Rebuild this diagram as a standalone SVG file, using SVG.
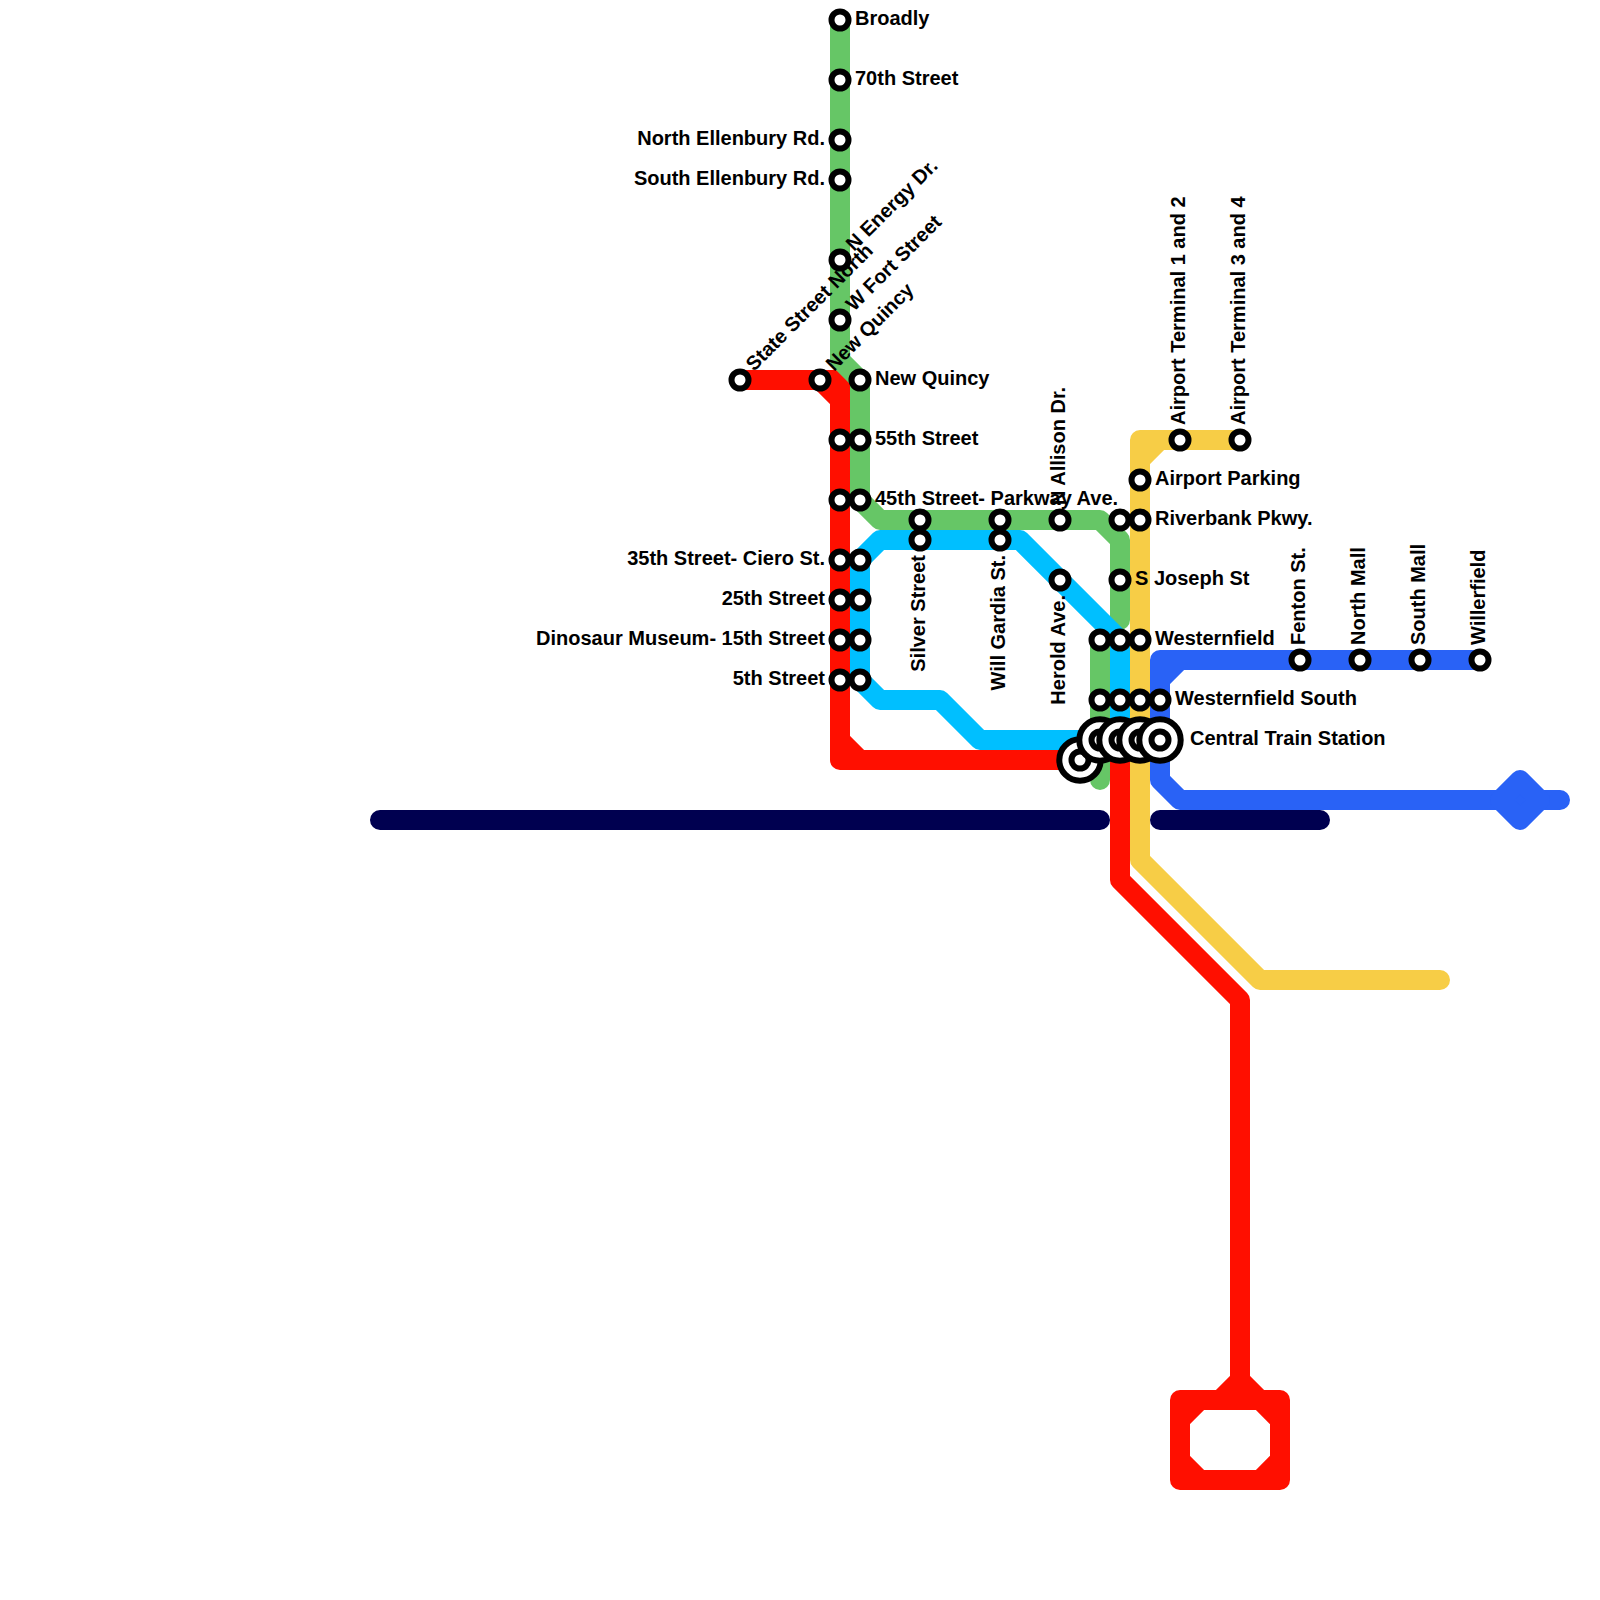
<svg xmlns="http://www.w3.org/2000/svg" width="1600" height="1600" viewBox="0 0 1600 1600">
<style>
.l{fill:none;stroke-width:20;stroke-linecap:round;stroke-linejoin:round}
.s{fill:#fff;stroke:#000;stroke-width:6}
.o{fill:#fff;stroke:#000;stroke-width:6}
text{font-family:"Liberation Sans",Arial,sans-serif;font-weight:700;font-size:20px;fill:#000}
.e{text-anchor:end}
</style>
<rect width="1600" height="1600" fill="#fff"/>
<g id="connectors">
<path class="l" stroke="#000050" d="M380 820H1100M1160 820H1320"/>
<path class="l" stroke="#ff0f00" d="M740 380H840V760H1080M820 380L840 400M840 740L860 760M1120 740V880L1240 1000V1400M1240 1380L1220 1400M1240 1380L1260 1400M1180 1400H1280V1480H1180ZM1180 1420L1200 1400M1260 1400L1280 1420M1280 1460L1260 1480M1200 1480L1180 1460"/>
<path class="l" stroke="#66c666" d="M840 20V360L860 380V500L880 520H1100L1120 540V620M1100 640V780"/>
<path class="l" stroke="#00bfff" d="M860 560V680L880 700H940L980 740H1100M860 560L880 540H1020L1120 640V740"/>
<path class="l" stroke="#f7cd46" d="M1240 440H1140V860L1260 980H1440M1140 460L1160 440"/>
<path class="l" stroke="#2962f6" d="M1480 660H1160V780L1180 800H1560M1160 680L1180 660"/>
<path d="M1520 780L1540 800L1520 820L1500 800Z" fill="#2962f6" stroke="#2962f6" stroke-width="20" stroke-linejoin="round"/>
</g>
<g id="n1"><circle class="s" cx="840" cy="20" r="8.5"/><text x="855" y="25">Broadly</text></g>
<g id="n2"><circle class="s" cx="840" cy="80" r="8.5"/><text x="855" y="85">70th Street</text></g>
<g id="n3"><circle class="s" cx="840" cy="140" r="8.5"/><text class="e" x="825" y="145">North Ellenbury Rd.</text></g>
<g id="n4"><circle class="s" cx="840" cy="180" r="8.5"/><text class="e" x="825" y="185">South Ellenbury Rd.</text></g>
<g id="n5"><circle class="s" cx="840" cy="260" r="8.5"/><text transform="translate(854 252) rotate(-45)">N Energy Dr.</text></g>
<g id="n6"><circle class="s" cx="840" cy="320" r="8.5"/><text transform="translate(854 312) rotate(-45)">W Fort Street</text></g>
<g id="n7"><circle class="s" cx="740" cy="380" r="8.5"/><text transform="translate(754 372) rotate(-45)">State Street North</text></g>
<g id="n8"><circle class="s" cx="820" cy="380" r="8.5"/><text transform="translate(834 372) rotate(-45)">New Quincy</text></g>
<g id="n9"><circle class="s" cx="860" cy="380" r="8.5"/><text x="875" y="385">New Quincy</text></g>
<g id="n10"><circle class="s" cx="840" cy="440" r="8.5"/></g>
<g id="n11"><circle class="s" cx="860" cy="440" r="8.5"/><text x="875" y="445">55th Street</text></g>
<g id="n12"><circle class="s" cx="840" cy="500" r="8.5"/></g>
<g id="n13"><circle class="s" cx="860" cy="500" r="8.5"/><text x="875" y="505">45th Street- Parkway Ave.</text></g>
<g id="n14"><circle class="s" cx="840" cy="560" r="8.5"/><text class="e" x="825" y="565">35th Street- Ciero St.</text></g>
<g id="n15"><circle class="s" cx="860" cy="560" r="8.5"/></g>
<g id="n16"><circle class="s" cx="840" cy="600" r="8.5"/><text class="e" x="825" y="605">25th Street</text></g>
<g id="n17"><circle class="s" cx="860" cy="600" r="8.5"/></g>
<g id="n18"><circle class="s" cx="840" cy="640" r="8.5"/><text class="e" x="825" y="645">Dinosaur Museum- 15th Street</text></g>
<g id="n19"><circle class="s" cx="860" cy="640" r="8.5"/></g>
<g id="n20"><circle class="s" cx="840" cy="680" r="8.5"/><text class="e" x="825" y="685">5th Street</text></g>
<g id="n21"><circle class="s" cx="860" cy="680" r="8.5"/></g>
<g id="n22"><circle class="s" cx="920" cy="520" r="8.5"/></g>
<g id="n23"><circle class="s" cx="920" cy="540" r="8.5"/><text class="e" transform="translate(925 555) rotate(-90)">Silver Street</text></g>
<g id="n24"><circle class="s" cx="1000" cy="520" r="8.5"/></g>
<g id="n25"><circle class="s" cx="1000" cy="540" r="8.5"/><text class="e" transform="translate(1005 555) rotate(-90)">Will Gardia St.</text></g>
<g id="n26"><circle class="s" cx="1060" cy="520" r="8.5"/><text transform="translate(1065 505) rotate(-90)">N Allison Dr.</text></g>
<g id="n27"><circle class="s" cx="1060" cy="580" r="8.5"/><text class="e" transform="translate(1065 595) rotate(-90)">Herold Ave.</text></g>
<g id="n28"><circle class="s" cx="1120" cy="520" r="8.5"/></g>
<g id="n29"><circle class="s" cx="1140" cy="520" r="8.5"/><text x="1155" y="525">Riverbank Pkwy.</text></g>
<g id="n30"><circle class="s" cx="1120" cy="580" r="8.5"/><text x="1135" y="585">S Joseph St</text></g>
<g id="n31"><circle class="s" cx="1140" cy="480" r="8.5"/><text x="1155" y="485">Airport Parking</text></g>
<g id="n32"><circle class="s" cx="1180" cy="440" r="8.5"/><text transform="translate(1185 425) rotate(-90)">Airport Terminal 1 and 2</text></g>
<g id="n33"><circle class="s" cx="1240" cy="440" r="8.5"/><text transform="translate(1245 425) rotate(-90)">Airport Terminal 3 and 4</text></g>
<g id="n34"><circle class="s" cx="1100" cy="640" r="8.5"/></g>
<g id="n35"><circle class="s" cx="1120" cy="640" r="8.5"/></g>
<g id="n36"><circle class="s" cx="1140" cy="640" r="8.5"/><text x="1155" y="645">Westernfield</text></g>
<g id="n37"><circle class="s" cx="1100" cy="700" r="8.5"/></g>
<g id="n38"><circle class="s" cx="1120" cy="700" r="8.5"/></g>
<g id="n39"><circle class="s" cx="1140" cy="700" r="8.5"/></g>
<g id="n40"><circle class="s" cx="1160" cy="700" r="8.5"/><text x="1175" y="705">Westernfield South</text></g>
<g id="n41"><circle class="s" cx="1300" cy="660" r="8.5"/><text transform="translate(1305 645) rotate(-90)">Fenton St.</text></g>
<g id="n42"><circle class="s" cx="1360" cy="660" r="8.5"/><text transform="translate(1365 645) rotate(-90)">North Mall</text></g>
<g id="n43"><circle class="s" cx="1420" cy="660" r="8.5"/><text transform="translate(1425 645) rotate(-90)">South Mall</text></g>
<g id="n44"><circle class="s" cx="1480" cy="660" r="8.5"/><text transform="translate(1485 645) rotate(-90)">Willerfield</text></g>
<g id="n45"><circle class="o" cx="1080" cy="760" r="20.7"/><circle class="s" cx="1080" cy="760" r="8.5"/></g>
<g id="n46"><circle class="o" cx="1100" cy="740" r="20.7"/><circle class="s" cx="1100" cy="740" r="8.5"/></g>
<g id="n47"><circle class="o" cx="1120" cy="740" r="20.7"/><circle class="s" cx="1120" cy="740" r="8.5"/></g>
<g id="n48"><circle class="o" cx="1140" cy="740" r="20.7"/><circle class="s" cx="1140" cy="740" r="8.5"/></g>
<g id="n49"><circle class="o" cx="1160" cy="740" r="20.7"/><circle class="s" cx="1160" cy="740" r="8.5"/><text x="1190" y="745">Central Train Station</text></g>
</svg>
